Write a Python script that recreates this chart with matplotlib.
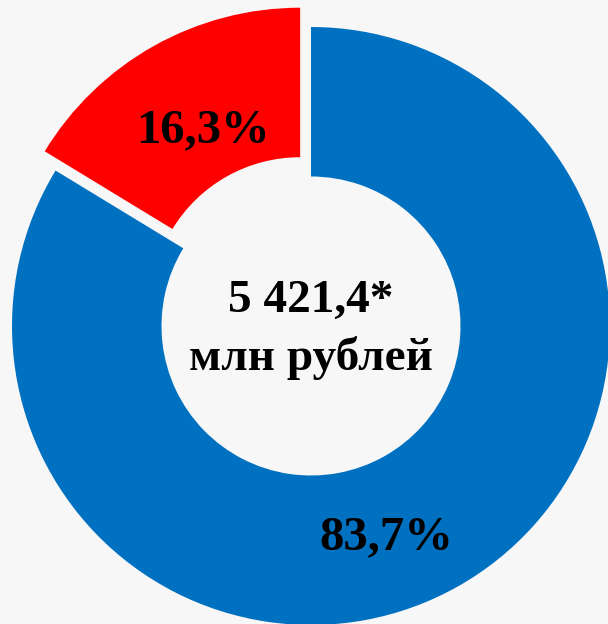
import numpy as np
import matplotlib.pyplot as plt

# structure of the total, %
labels = ['83,7%', '16,3%']
shares = [83.7, 16.3]
colors = ['#0070C0', '#FF0000']
explode = [0, 0.074]
total_text = '5 421,4*\nмлн рублей'

BG = '#F7F7F7'

plt.rcParams['font.family'] = ['Liberation Serif', 'DejaVu Serif']

fig = plt.figure(figsize=(6.08, 6.24), dpi=100, facecolor=BG)
ax = fig.add_axes([0, 0, 1, 1])
ax.set_facecolor(BG)

wedges, _ = ax.pie(shares, colors=colors, explode=explode, startangle=90,
                   counterclock=False, radius=1.0,
                   wedgeprops=dict(width=0.5, linewidth=0))

# label placement: (radius, angle in degrees) relative to each wedge's centre
label_pos = [(0.75, -70.5), (0.675, 118.8)]
for w, lab, (r, ang), ex in zip(wedges, labels, label_pos, explode):
    mid = np.deg2rad((w.theta1 + w.theta2) / 2)
    cx, cy = ex * np.cos(mid), ex * np.sin(mid)
    a = np.deg2rad(ang)
    ax.text(cx + r * np.cos(a), cy + r * np.sin(a), lab, ha='center', va='center',
            fontsize=35, fontweight='bold', color='black')

ax.text(0, -0.012, total_text, ha='center', va='center', fontsize=34,
        fontweight='bold', color='black', linespacing=1.42)

ax.set_xlim(-311 / 299, 297 / 299)
ax.set_ylim(-298 / 299, 326 / 299)
ax.set_aspect('auto')
ax.axis('off')

fig.savefig('out.png', dpi=100, facecolor=BG)
